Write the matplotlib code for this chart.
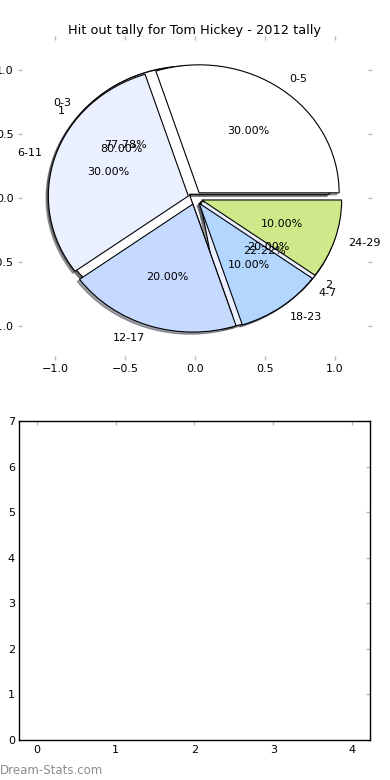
import matplotlib
matplotlib.use("Agg")
import matplotlib.pyplot as plt

plt.rcParams['font.family'] = ['DejaVu Sans']

# Data
labels_a = ['0-5', '6-11', '12-17', '18-23', '24-29']
values_a = [3, 3, 2, 1, 1]
labels_b = ['0-3', '4-7']
values_b = [7, 2]
labels_c = ['1', '2']
values_c = [4, 1]
colors = ['white', '#eaf0ff', '#c6d9ff', '#b3d6ff', '#cfe98a']
title = 'Hit out tally for Tom Hickey - 2012 tally'
pie_ticks = [-1.0, -0.5, 0.0, 0.5, 1.0]
bar_xticks = [0, 1, 2, 3, 4]
bar_yticks = [0, 1, 2, 3, 4, 5, 6, 7]

fig = plt.figure(figsize=(3.9, 7.8), dpi=100)
fig.patch.set_facecolor('white')

ax = fig.add_axes([20/390, 1-358/780, 350/390, 320/780])

def draw_pie(vals, labs):
    wp = {'edgecolor': 'black', 'linewidth': 0.8}
    res = ax.pie(vals, labels=labs, colors=colors[:len(vals)], explode=[0.05]*len(vals),
                 autopct='%1.2f%%', startangle=0, wedgeprops=wp,
                 shadow={'ox': -0.012, 'oy': -0.012, 'shade': 0.7},
                 textprops={'fontsize': 8})
    return res

draw_pie(values_b, labels_b)
draw_pie(values_c, labels_c)
draw_pie(values_a, labels_a)

ax.set_aspect('auto')
ax.set_frame_on(False)
ax.set_xlim(-1.25, 1.25)
ax.set_ylim(-1.25, 1.25)
ax.set_xticks(pie_ticks)
ax.set_yticks(pie_ticks)
ax.tick_params(which='both', top=True, right=True, bottom=True, left=True,
               direction='inout', length=3, width=1, color='#bbbbbb', labelsize=8, pad=3)
ax.set_title(title, fontsize=9.3, pad=3)

ax2 = fig.add_axes([19/390, 40/780, 351/390, 319/780])
ax2.set_xlim(-0.23, 4.23)
ax2.set_ylim(0, 7)
ax2.set_xticks(bar_xticks)
ax2.set_yticks(bar_yticks)
ax2.tick_params(which='both', top=True, right=True, bottom=False, left=False,
                direction='in', length=3, width=1, color='#bbbbbb', labelsize=8, pad=3)
ax2.tick_params(axis='x', pad=3.5)
for s in ax2.spines.values():
    s.set_linewidth(1.0)

fig.text(0.0, 1 - 770/780, 'Dream-Stats.com', fontsize=8.5, color='#8c8c8c',
         ha='left', va='center')

fig.savefig('out.png', dpi=100, facecolor='white')
